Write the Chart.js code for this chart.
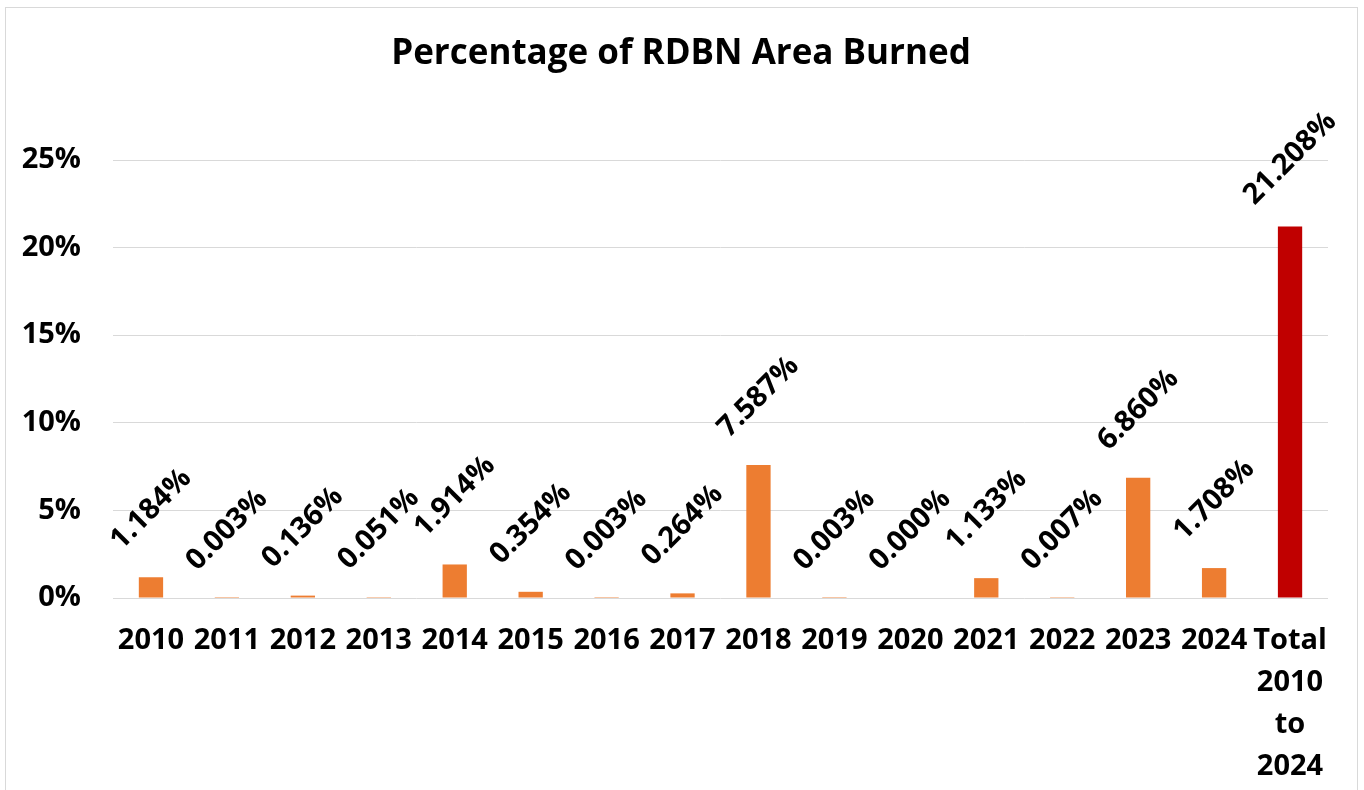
<!DOCTYPE html>
<html>
<head>
<meta charset="utf-8">
<script src="https://cdn.jsdelivr.net/npm/chart.js@4.4.1/dist/chart.umd.min.js"></script>
<style>
  html, body { margin: 0; padding: 0; background: #fff; overflow: hidden; }
  #wrap { position: relative; width: 1364px; height: 790px; }
  #frame { position: absolute; left: 5px; top: 7px; width: 1351px; height: 820px; border: 1px solid #d9d9d9; pointer-events: none; }
  canvas { position: absolute; left: 0; top: 0; }
</style>
</head>
<body>
<div id="wrap">
  <canvas id="c" width="1364" height="790"></canvas>
  <div id="frame"></div>
</div>
<script>
const chartTitle = 'Percentage of RDBN Area Burned';
const categories = ['2010', '2011', '2012', '2013', '2014', '2015', '2016', '2017', '2018', '2019', '2020', '2021', '2022', '2023', '2024', ['Total', '2010', 'to', '2024']];
const percentBurned = [1.184, 0.003, 0.136, 0.051, 1.914, 0.354, 0.003, 0.264, 7.587, 0.003, 0.000, 1.133, 0.007, 6.860, 1.708, 21.208];
const barColors = ['#ED7D31', '#ED7D31', '#ED7D31', '#ED7D31', '#ED7D31', '#ED7D31', '#ED7D31', '#ED7D31', '#ED7D31', '#ED7D31', '#ED7D31', '#ED7D31', '#ED7D31', '#ED7D31', '#ED7D31', '#C00000'];
const yTickValues = [0, 5, 10, 15, 20, 25];

const FONT = '"Open Sans", "Liberation Sans", sans-serif';

const centerTitle = {
  id: 'centerTitle',
  afterLayout(chart) {
    if (chart.titleBlock) {
      chart.titleBlock.left = 0;
      chart.titleBlock.right = chart.width - 2;
    }
  }
};

const rotatedLabels = {
  id: 'rotatedLabels',
  afterDatasetsDraw(chart) {
    const ctx = chart.ctx;
    const meta = chart.getDatasetMeta(0);
    const data = chart.data.datasets[0].data;
    ctx.save();
    ctx.font = 'bold 29px ' + FONT;
    ctx.fillStyle = '#000000';
    ctx.textAlign = 'center';
    ctx.textBaseline = 'middle';
    meta.data.forEach((bar, i) => {
      const txt = data[i].toFixed(3) + '%';
      ctx.save();
      ctx.translate(bar.x, bar.y - 68);
      ctx.rotate(-Math.PI / 4);
      ctx.fillText(txt, 0, 0);
      ctx.restore();
    });
    ctx.restore();
  }
};

new Chart(document.getElementById('c'), {
  type: 'bar',
  data: {
    labels: categories,
    datasets: [{
      data: percentBurned,
      backgroundColor: barColors,
      borderWidth: 0,
      categoryPercentage: 1.0,
      barPercentage: 0.32
    }]
  },
  options: {
    responsive: false,
    animation: false,
    layout: { padding: { left: 0, right: 36, top: 0, bottom: 0 } },
    plugins: {
      legend: { display: false },
      tooltip: { enabled: false },
      title: {
        display: true,
        text: chartTitle,
        color: '#000000',
        font: { family: FONT, size: 35, weight: 'bold', lineHeight: 1.2 },
        padding: { top: 33, bottom: 85 }
      }
    },
    scales: {
      x: {
        grid: { display: false, drawTicks: false },
        border: { display: false },
        ticks: {
          color: '#000000',
          font: { family: FONT, size: 29, weight: 'bold', lineHeight: 1.45 },
          padding: 22,
          maxRotation: 0,
          minRotation: 0,
          autoSkip: false
        },
        afterFit(scale) { scale.height = 192; }
      },
      y: {
        min: 0,
        max: 25,
        afterBuildTicks(scale) { scale.ticks = yTickValues.map(v => ({ value: v })); },
        grid: { color: '#d9d9d9', lineWidth: 1, drawTicks: false },
        border: { display: false },
        ticks: {
          color: '#000000',
          font: { family: FONT, size: 29, weight: 'bold' },
          padding: 32,
          callback: (v) => v + '%'
        },
        afterFit(scale) { scale.width = 113; }
      }
    }
  },
  plugins: [centerTitle, rotatedLabels]
});
</script>
</body>
</html>
